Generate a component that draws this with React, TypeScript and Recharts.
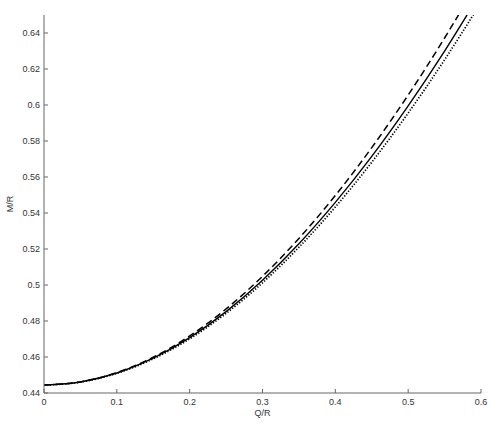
import React from "react";
import { LineChart, Line, XAxis, YAxis } from "recharts";

const qValues = [0, 0.05, 0.1, 0.15, 0.2, 0.25, 0.3, 0.35, 0.4, 0.45, 0.5, 0.55, 0.6];
const solidValues = [0.4444, 0.44611, 0.45109, 0.45932, 0.47073, 0.48521, 0.50265, 0.52292, 0.5459, 0.57146, 0.59953, 0.62996, 0.66271];
const dashedValues = [0.4444, 0.44617, 0.45133, 0.45986, 0.47169, 0.48671, 0.50481, 0.52586, 0.54974, 0.57632, 0.60553, 0.63722, 0.67135];
const dottedValues = [0.4444, 0.44607, 0.45093, 0.45896, 0.47009, 0.48421, 0.50121, 0.52096, 0.54334, 0.56822, 0.59553, 0.62512, 0.65695];

const xTicks = [0, 0.1, 0.2, 0.3, 0.4, 0.5, 0.6];
const xTickLabels = ["0", "0.1", "0.2", "0.3", "0.4", "0.5", "0.6"];
const yTicks = [0.44, 0.46, 0.48, 0.5, 0.52, 0.54, 0.56, 0.58, 0.6, 0.62, 0.64];
const yTickLabels = ["0.44", "0.46", "0.48", "0.5", "0.52", "0.54", "0.56", "0.58", "0.6", "0.62", "0.64"];

const xLabel = "Q/R";
const yLabel = "M/R";

const data = qValues.map((q, i) => ({
  q,
  solid: solidValues[i],
  dashed: dashedValues[i],
  dotted: dottedValues[i],
}));

const FONT = "'Liberation Sans', Arial, sans-serif";
const AXIS = "#666";
const TEXT = "#333";

const XTick = (props: any) => {
  const { x, y, payload } = props;
  const idx = xTicks.indexOf(payload.value);
  return (
    <g>
      <line x1={x} y1={y} x2={x} y2={y - 4} stroke={AXIS} strokeWidth={1} />
      <text x={x} y={y + 12} textAnchor="middle" fontSize={9} fontFamily={FONT} fill={TEXT}>
        {idx >= 0 ? xTickLabels[idx] : String(payload.value)}
      </text>
    </g>
  );
};

const YTick = (props: any) => {
  const { x, y, payload } = props;
  const idx = yTicks.indexOf(payload.value);
  return (
    <g>
      <line x1={x} y1={y} x2={x + 4} y2={y} stroke={AXIS} strokeWidth={1} />
      <text x={x - 4} y={y + 3.2} textAnchor="end" fontSize={9} fontFamily={FONT} fill={TEXT}>
        {idx >= 0 ? yTickLabels[idx] : String(payload.value)}
      </text>
    </g>
  );
};

const XLab = () => (
  <text x={262.5} y={416} textAnchor="middle" fontSize={9} fontFamily={FONT} fill={TEXT}>
    {xLabel}
  </text>
);

const YLab = () => (
  <text
    x={10}
    y={204}
    textAnchor="middle"
    dominantBaseline="central"
    transform="rotate(-90, 10, 204)"
    fontSize={9}
    fontFamily={FONT}
    fill={TEXT}
  >
    {yLabel}
  </text>
);

export default function App() {
  return (
    <div style={{ position: "absolute", left: 0, top: 0, background: "#fff" }}>
      <LineChart
        width={498}
        height={425}
        data={data}
        margin={{ top: 15, right: 17, left: 0, bottom: 0 }}
      >
        <XAxis
          type="number"
          dataKey="q"
          domain={[0, 0.6]}
          ticks={xTicks}
          tickSize={0}
          tickMargin={0}
          tickLine={false}
          tick={<XTick />}
          axisLine={{ stroke: AXIS, strokeWidth: 1 }}
          height={32}
          label={<XLab />}
        />
        <YAxis
          type="number"
          domain={[0.44, 0.65]}
          allowDataOverflow
          ticks={yTicks}
          tickSize={0}
          tickMargin={0}
          tickLine={false}
          tick={<YTick />}
          axisLine={{ stroke: AXIS, strokeWidth: 1 }}
          width={44}
          label={<YLab />}
        />
        <Line
          type="monotone"
          dataKey="dashed"
          stroke="#000"
          strokeWidth={1.5}
          strokeDasharray="7 4"
          dot={false}
          isAnimationActive={false}
        />
        <Line
          type="monotone"
          dataKey="solid"
          stroke="#000"
          strokeWidth={1.4}
          dot={false}
          isAnimationActive={false}
        />
        <Line
          type="monotone"
          dataKey="dotted"
          stroke="#000"
          strokeWidth={1.7}
          strokeDasharray="1.3 1.7"
          dot={false}
          isAnimationActive={false}
        />
      </LineChart>
    </div>
  );
}
